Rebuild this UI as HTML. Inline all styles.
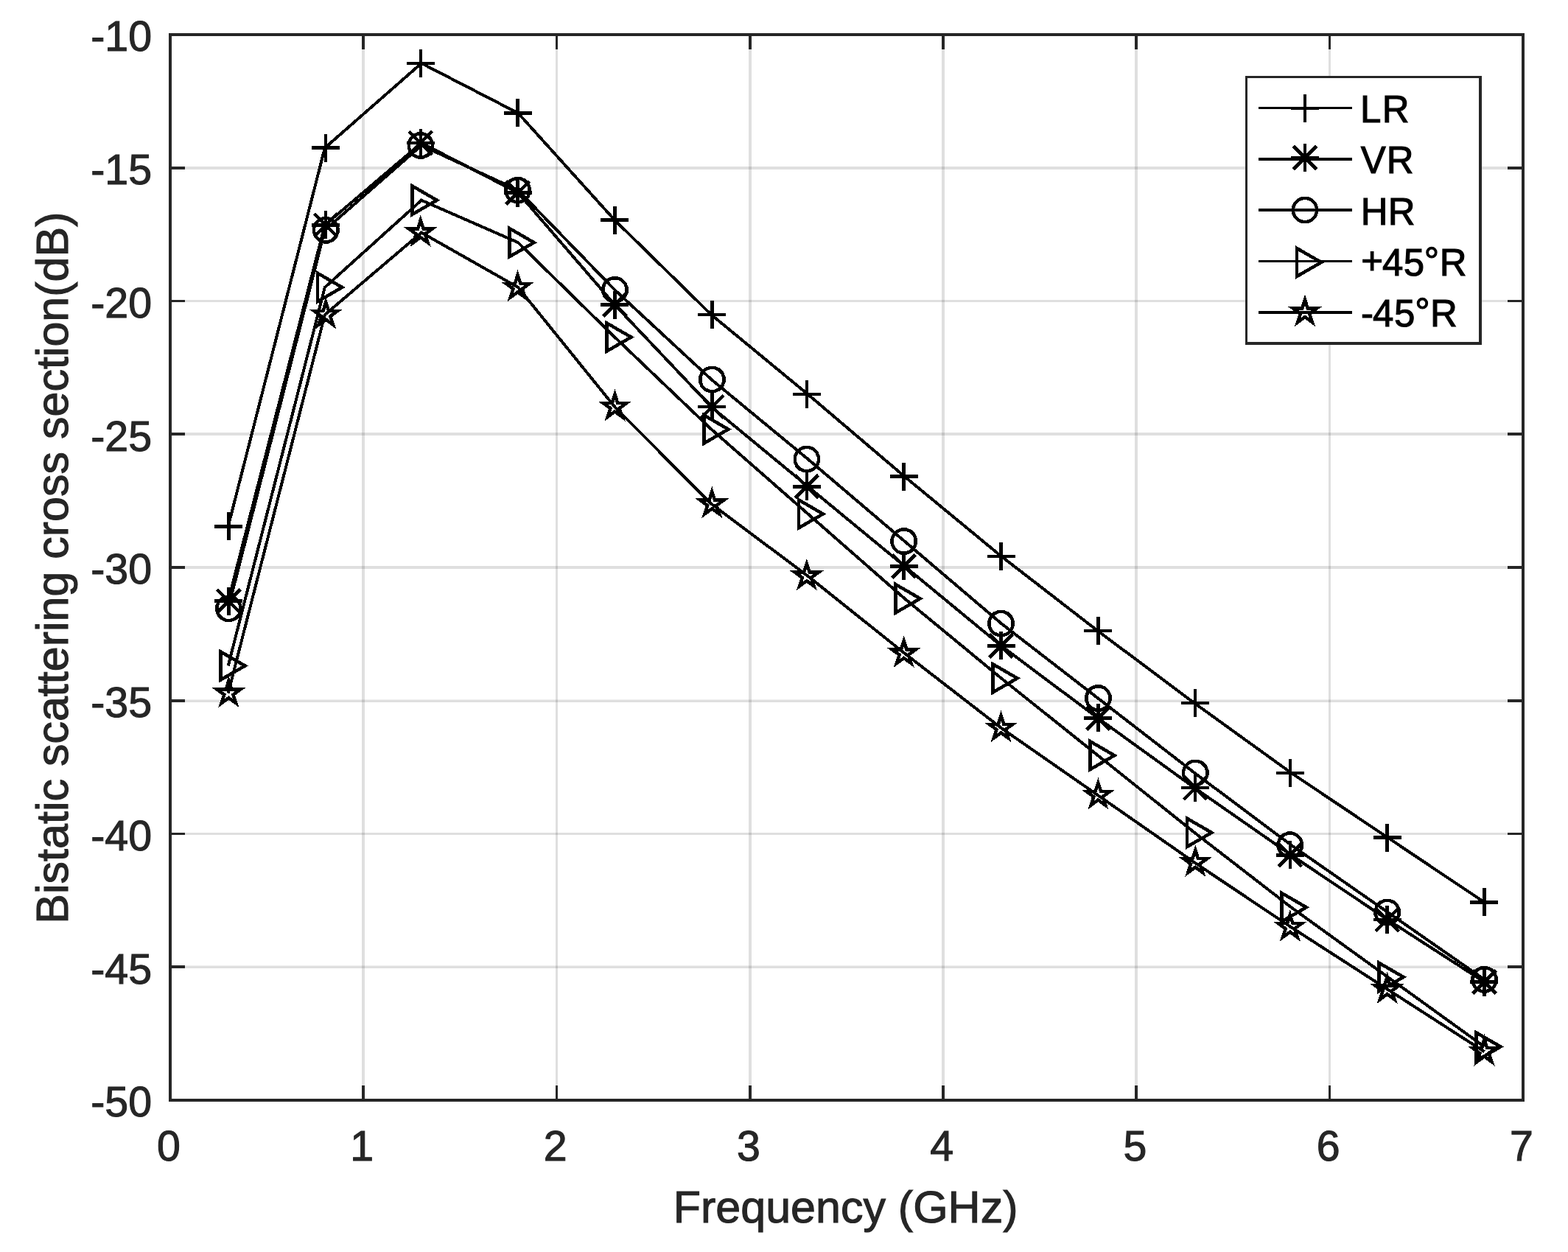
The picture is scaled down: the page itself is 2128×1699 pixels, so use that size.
<!DOCTYPE html>
<html lang="en"><head><meta charset="utf-8"><title>Bistatic scattering cross section vs frequency</title>
<style>
html,body{margin:0;padding:0;background:#fff;}
body{width:2128px;height:1699px;overflow:hidden;}
svg{display:block;}
text{font-family:"Liberation Sans",Arial,Helvetica,sans-serif;}
.tk{font-size:57.3px;fill:#262626;stroke:#262626;stroke-width:1.1;}
.lb{font-size:61.0px;fill:#262626;stroke:#262626;stroke-width:1.1;}
.lg{font-size:51.0px;fill:#000;stroke:#000;stroke-width:1.1;}
</style></head><body>
<svg xmlns="http://www.w3.org/2000/svg" width="2128" height="1699" viewBox="0 0 2128 1699">
<rect width="2128" height="1699" fill="#fff"/>
<g id="grid" fill="#262626" fill-opacity="0.15">
<rect x="491" y="49" width="4" height="1442"/>
<rect x="754" y="49" width="3" height="1442"/>
<rect x="1016" y="49" width="4" height="1442"/>
<rect x="1278" y="49" width="4" height="1442"/>
<rect x="1540" y="49" width="4" height="1442"/>
<rect x="1803" y="49" width="3" height="1442"/>
<rect x="233" y="226" width="1832" height="4"/>
<rect x="233" y="407" width="1832" height="3"/>
<rect x="233" y="587" width="1832" height="4"/>
<rect x="233" y="768" width="1832" height="4"/>
<rect x="233" y="949.5" width="1832" height="3.5"/>
<rect x="233" y="1130" width="1832" height="3"/>
<rect x="233" y="1310.5" width="1832" height="3.5"/>
</g>
<g id="lines" fill="none" stroke="#000" stroke-width="4.0" stroke-linejoin="miter" shape-rendering="crispEdges">
<polyline points="309.69,714.3 440.83,200.74 571.97,85.87 703.11,153.44 834.26,298.73 965.4,427.12 1096.54,535.23 1227.69,646.73 1358.83,754.85 1489.97,856.21 1621.11,954.19 1752.26,1048.79 1883.4,1136.64 2014.54,1224.49"/>
<polyline points="309.69,815.66 440.83,305.48 571.97,193.99 703.11,261.56 834.26,413.6 965.4,552.13 1096.54,660.25 1227.69,768.36 1358.83,876.48 1489.97,974.46 1621.11,1069.07 1752.26,1160.29 1883.4,1248.14 2014.54,1332.6"/>
<polyline points="309.69,825.8 440.83,312.24 571.97,197.37 703.11,258.18 834.26,393.33 965.4,514.96 1096.54,623.08 1227.69,734.58 1358.83,846.07 1489.97,947.43 1621.11,1048.79 1752.26,1146.78 1883.4,1238 2014.54,1329.22"/>
<polyline points="309.69,903.51 440.83,389.95 571.97,271.7 703.11,329.13 834.26,457.52 965.4,582.54 1096.54,697.41 1227.69,812.29 1358.83,920.4 1489.97,1025.14 1621.11,1129.88 1752.26,1231.24 1883.4,1325.85 2014.54,1420.45"/>
<polyline points="309.69,940.68 440.83,427.12 571.97,315.62 703.11,389.95 834.26,552.13 965.4,683.9 1096.54,781.88 1227.69,886.62 1358.83,987.98 1489.97,1079.2 1621.11,1170.43 1752.26,1258.27 1883.4,1342.74 2014.54,1427.21"/>
</g>
<g id="markers" fill="none" stroke="#000" stroke-width="4.5" stroke-linejoin="miter" stroke-miterlimit="10" shape-rendering="crispEdges">
<path d="M291.39 714.3H329.39M310.39 695.3V733.3"/>
<path d="M423.24 200.74H461.24M442.24 181.74V219.74"/>
<path d="M551.78 85.87H589.78M570.78 66.87V104.87"/>
<path d="M683.63 153.44H721.63M702.63 134.44V172.44"/>
<path d="M815.47 298.73H853.47M834.47 279.73V317.73"/>
<path d="M947.31 427.12H985.31M966.31 408.12V446.12"/>
<path d="M1075.86 535.23H1113.86M1094.86 516.23V554.23"/>
<path d="M1207.7 646.73H1245.7M1226.7 627.73V665.73"/>
<path d="M1339.55 754.85H1377.55M1358.55 735.85V773.85"/>
<path d="M1471.39 856.21H1509.39M1490.39 837.21V875.21"/>
<path d="M1603.23 954.19H1641.23M1622.23 935.19V973.19"/>
<path d="M1731.78 1048.79H1769.78M1750.78 1029.79V1067.79"/>
<path d="M1863.62 1136.64H1901.62M1882.62 1117.64V1155.64"/>
<path d="M1995.47 1224.49H2033.47M2014.47 1205.49V1243.49"/>
<path d="M291.39 815.66H329.39M310.39 796.66V834.66M294.69 799.96L326.09 831.36M294.69 831.36L326.09 799.96"/>
<path d="M423.24 305.48H461.24M442.24 286.48V324.48M426.54 289.78L457.94 321.18M426.54 321.18L457.94 289.78"/>
<path d="M551.78 193.99H589.78M570.78 174.99V212.99M555.08 178.29L586.48 209.69M555.08 209.69L586.48 178.29"/>
<path d="M683.63 261.56H721.63M702.63 242.56V280.56M686.93 245.86L718.33 277.26M686.93 277.26L718.33 245.86"/>
<path d="M815.47 413.6H853.47M834.47 394.6V432.6M818.77 397.9L850.17 429.3M818.77 429.3L850.17 397.9"/>
<path d="M947.31 552.13H985.31M966.31 533.13V571.13M950.61 536.43L982.01 567.83M950.61 567.83L982.01 536.43"/>
<path d="M1075.86 660.25H1113.86M1094.86 641.25V679.25M1079.16 644.55L1110.56 675.95M1079.16 675.95L1110.56 644.55"/>
<path d="M1207.7 768.36H1245.7M1226.7 749.36V787.36M1211 752.66L1242.4 784.06M1211 784.06L1242.4 752.66"/>
<path d="M1339.55 876.48H1377.55M1358.55 857.48V895.48M1342.85 860.78L1374.25 892.18M1342.85 892.18L1374.25 860.78"/>
<path d="M1471.39 974.46H1509.39M1490.39 955.46V993.46M1474.69 958.76L1506.09 990.16M1474.69 990.16L1506.09 958.76"/>
<path d="M1603.23 1069.07H1641.23M1622.23 1050.07V1088.07M1606.53 1053.37L1637.93 1084.77M1606.53 1084.77L1637.93 1053.37"/>
<path d="M1731.78 1160.29H1769.78M1750.78 1141.29V1179.29M1735.08 1144.59L1766.48 1175.99M1735.08 1175.99L1766.48 1144.59"/>
<path d="M1863.62 1248.14H1901.62M1882.62 1229.14V1267.14M1866.92 1232.44L1898.32 1263.84M1866.92 1263.84L1898.32 1232.44"/>
<path d="M1995.47 1332.6H2033.47M2014.47 1313.6V1351.6M1998.77 1316.9L2030.17 1348.3M1998.77 1348.3L2030.17 1316.9"/>
<path d="M326.43 828.99L323.99 834.88L319.48 839.4L313.58 841.84L307.2 841.84L301.31 839.4L296.8 834.88L294.36 828.99L294.36 822.61L296.8 816.72L301.31 812.21L307.2 809.77L313.58 809.77L319.48 812.21L323.99 816.72L326.43 822.61Z"/>
<path d="M458.27 315.43L455.83 321.32L451.32 325.84L445.43 328.28L439.05 328.28L433.15 325.84L428.64 321.32L426.2 315.43L426.2 309.05L428.64 303.16L433.15 298.65L439.05 296.21L445.43 296.21L451.32 298.65L455.83 303.16L458.27 309.05Z"/>
<path d="M586.82 200.56L584.38 206.45L579.87 210.96L573.97 213.4L567.59 213.4L561.7 210.96L557.19 206.45L554.75 200.56L554.75 194.18L557.19 188.28L561.7 183.77L567.59 181.33L573.97 181.33L579.87 183.77L584.38 188.28L586.82 194.18Z"/>
<path d="M718.66 261.37L716.22 267.27L711.71 271.78L705.82 274.22L699.44 274.22L693.54 271.78L689.03 267.27L686.59 261.37L686.59 254.99L689.03 249.1L693.54 244.59L699.44 242.15L705.82 242.15L711.71 244.59L716.22 249.1L718.66 254.99Z"/>
<path d="M850.51 396.52L848.06 402.41L843.55 406.92L837.66 409.37L831.28 409.37L825.39 406.92L820.87 402.41L818.43 396.52L818.43 390.14L820.87 384.25L825.39 379.73L831.28 377.29L837.66 377.29L843.55 379.73L848.06 384.25L850.51 390.14Z"/>
<path d="M982.35 518.15L979.91 524.05L975.4 528.56L969.5 531L963.12 531L957.23 528.56L952.72 524.05L950.28 518.15L950.28 511.77L952.72 505.88L957.23 501.37L963.12 498.93L969.5 498.93L975.4 501.37L979.91 505.88L982.35 511.77Z"/>
<path d="M1110.9 626.27L1108.45 632.16L1103.94 636.67L1098.05 639.12L1091.67 639.12L1085.78 636.67L1081.27 632.16L1078.82 626.27L1078.82 619.89L1081.27 614L1085.78 609.49L1091.67 607.04L1098.05 607.04L1103.94 609.49L1108.45 614L1110.9 619.89Z"/>
<path d="M1242.74 737.77L1240.3 743.66L1235.79 748.17L1229.89 750.61L1223.51 750.61L1217.62 748.17L1213.11 743.66L1210.67 737.77L1210.67 731.39L1213.11 725.49L1217.62 720.98L1223.51 718.54L1229.89 718.54L1235.79 720.98L1240.3 725.49L1242.74 731.39Z"/>
<path d="M1374.58 849.26L1372.14 855.16L1367.63 859.67L1361.74 862.11L1355.36 862.11L1349.46 859.67L1344.95 855.16L1342.51 849.26L1342.51 842.88L1344.95 836.99L1349.46 832.48L1355.36 830.04L1361.74 830.04L1367.63 832.48L1372.14 836.99L1374.58 842.88Z"/>
<path d="M1506.43 950.62L1503.98 956.52L1499.47 961.03L1493.58 963.47L1487.2 963.47L1481.31 961.03L1476.8 956.52L1474.35 950.62L1474.35 944.24L1476.8 938.35L1481.31 933.84L1487.2 931.4L1493.58 931.4L1499.47 933.84L1503.98 938.35L1506.43 944.24Z"/>
<path d="M1638.27 1051.98L1635.83 1057.88L1631.32 1062.39L1625.42 1064.83L1619.04 1064.83L1613.15 1062.39L1608.64 1057.88L1606.2 1051.98L1606.2 1045.6L1608.64 1039.71L1613.15 1035.2L1619.04 1032.76L1625.42 1032.76L1631.32 1035.2L1635.83 1039.71L1638.27 1045.6Z"/>
<path d="M1766.82 1149.97L1764.38 1155.86L1759.86 1160.37L1753.97 1162.81L1747.59 1162.81L1741.7 1160.37L1737.19 1155.86L1734.74 1149.97L1734.74 1143.59L1737.19 1137.69L1741.7 1133.18L1747.59 1130.74L1753.97 1130.74L1759.86 1133.18L1764.38 1137.69L1766.82 1143.59Z"/>
<path d="M1898.66 1241.19L1896.22 1247.08L1891.71 1251.59L1885.81 1254.04L1879.43 1254.04L1873.54 1251.59L1869.03 1247.08L1866.59 1241.19L1866.59 1234.81L1869.03 1228.92L1873.54 1224.41L1879.43 1221.96L1885.81 1221.96L1891.71 1224.41L1896.22 1228.92L1898.66 1234.81Z"/>
<path d="M2030.5 1332.41L2028.06 1338.31L2023.55 1342.82L2017.66 1345.26L2011.28 1345.26L2005.38 1342.82L2000.87 1338.31L1998.43 1332.41L1998.43 1326.03L2000.87 1320.14L2005.38 1315.63L2011.28 1313.19L2017.66 1313.19L2023.55 1315.63L2028.06 1320.14L2030.5 1326.03Z"/>
<path d="M332.49 903.51L299.34 922.65L299.34 884.37Z"/>
<path d="M464.34 389.95L431.19 409.09L431.19 370.81Z"/>
<path d="M592.88 271.7L559.73 290.84L559.73 252.56Z"/>
<path d="M724.73 329.13L691.58 348.27L691.58 310Z"/>
<path d="M856.57 457.52L823.42 476.66L823.42 438.39Z"/>
<path d="M988.41 582.54L955.26 601.67L955.26 563.4Z"/>
<path d="M1116.96 697.41L1083.81 716.55L1083.81 678.27Z"/>
<path d="M1248.8 812.29L1215.65 831.43L1215.65 793.15Z"/>
<path d="M1380.65 920.4L1347.5 939.54L1347.5 901.26Z"/>
<path d="M1512.49 1025.14L1479.34 1044.28L1479.34 1006Z"/>
<path d="M1644.33 1129.88L1611.18 1149.02L1611.18 1110.74Z"/>
<path d="M1772.88 1231.24L1739.73 1250.38L1739.73 1212.1Z"/>
<path d="M1904.72 1325.85L1871.57 1344.99L1871.57 1306.71Z"/>
<path d="M2036.57 1420.45L2003.42 1439.59L2003.42 1401.31Z"/>
<path d="M310.39 923.88L314.16 935.48L326.37 935.48L316.5 942.66L320.27 954.27L310.39 947.09L300.52 954.27L304.29 942.66L294.41 935.48L306.62 935.48Z"/>
<path d="M442.24 410.32L446.01 421.92L458.21 421.92L448.34 429.1L452.11 440.71L442.24 433.53L432.36 440.71L436.13 429.1L426.26 421.92L438.46 421.92Z"/>
<path d="M570.78 298.82L574.55 310.43L586.76 310.43L576.89 317.6L580.66 329.21L570.78 322.04L560.91 329.21L564.68 317.6L554.81 310.43L567.01 310.43Z"/>
<path d="M702.63 373.15L706.4 384.76L718.6 384.76L708.73 391.93L712.5 403.54L702.63 396.37L692.75 403.54L696.52 391.93L686.65 384.76L698.85 384.76Z"/>
<path d="M834.47 535.33L838.24 546.94L850.45 546.94L840.57 554.11L844.34 565.72L834.47 558.55L824.59 565.72L828.37 554.11L818.49 546.94L830.7 546.94Z"/>
<path d="M966.31 667.1L970.08 678.7L982.29 678.7L972.42 685.88L976.19 697.49L966.31 690.31L956.44 697.49L960.21 685.88L950.34 678.7L962.54 678.7Z"/>
<path d="M1094.86 765.08L1098.63 776.69L1110.84 776.69L1100.96 783.86L1104.73 795.47L1094.86 788.3L1084.99 795.47L1088.76 783.86L1078.88 776.69L1091.09 776.69Z"/>
<path d="M1226.7 869.82L1230.48 881.43L1242.68 881.43L1232.81 888.6L1236.58 900.21L1226.7 893.03L1216.83 900.21L1220.6 888.6L1210.73 881.43L1222.93 881.43Z"/>
<path d="M1358.55 971.18L1362.32 982.79L1374.52 982.79L1364.65 989.96L1368.42 1001.57L1358.55 994.4L1348.67 1001.57L1352.44 989.96L1342.57 982.79L1354.77 982.79Z"/>
<path d="M1490.39 1062.4L1494.16 1074.01L1506.37 1074.01L1496.49 1081.19L1500.26 1092.79L1490.39 1085.62L1480.52 1092.79L1484.29 1081.19L1474.41 1074.01L1486.62 1074.01Z"/>
<path d="M1622.23 1153.63L1626.01 1165.23L1638.21 1165.24L1628.34 1172.41L1632.11 1184.02L1622.23 1176.84L1612.36 1184.02L1616.13 1172.41L1606.26 1165.24L1618.46 1165.23Z"/>
<path d="M1750.78 1241.47L1754.55 1253.08L1766.76 1253.08L1756.88 1260.26L1760.66 1271.86L1750.78 1264.69L1740.91 1271.86L1744.68 1260.26L1734.8 1253.08L1747.01 1253.08Z"/>
<path d="M1882.62 1325.94L1886.4 1337.55L1898.6 1337.55L1888.73 1344.72L1892.5 1356.33L1882.62 1349.16L1872.75 1356.33L1876.52 1344.72L1866.65 1337.55L1878.85 1337.55Z"/>
<path d="M2014.47 1410.41L2018.24 1422.01L2030.45 1422.02L2020.57 1429.19L2024.34 1440.8L2014.47 1433.62L2004.59 1440.8L2008.36 1429.19L1998.49 1422.02L2010.7 1422.01Z"/>
</g>
<g id="axes" fill="#262626">
<path fill-rule="evenodd" d="M229 45H2069V1495H229ZM233 49V1491H2065V49Z"/>
<rect x="491" y="49" width="4" height="18"/>
<rect x="491" y="1473" width="4" height="18"/>
<rect x="754" y="49" width="3" height="18"/>
<rect x="754" y="1473" width="3" height="18"/>
<rect x="1016" y="49" width="4" height="18"/>
<rect x="1016" y="1473" width="4" height="18"/>
<rect x="1278" y="49" width="4" height="18"/>
<rect x="1278" y="1473" width="4" height="18"/>
<rect x="1540" y="49" width="4" height="18"/>
<rect x="1540" y="1473" width="4" height="18"/>
<rect x="1803" y="49" width="3" height="18"/>
<rect x="1803" y="1473" width="3" height="18"/>
<rect x="233" y="226" width="18" height="4"/>
<rect x="2046" y="226" width="19" height="4"/>
<rect x="233" y="407" width="18" height="3"/>
<rect x="2046" y="407" width="19" height="3"/>
<rect x="233" y="587" width="18" height="4"/>
<rect x="2046" y="587" width="19" height="4"/>
<rect x="233" y="768" width="18" height="4"/>
<rect x="2046" y="768" width="19" height="4"/>
<rect x="233" y="949" width="18" height="4"/>
<rect x="2046" y="949" width="19" height="4"/>
<rect x="233" y="1130" width="18" height="3"/>
<rect x="2046" y="1130" width="19" height="3"/>
<rect x="233" y="1310" width="18" height="4"/>
<rect x="2046" y="1310" width="19" height="4"/>
</g>
<g id="xticks" class="tk" text-anchor="middle">
<text x="229" y="1575">0</text>
<text x="491.29" y="1575">1</text>
<text x="753.57" y="1575">2</text>
<text x="1015.86" y="1575">3</text>
<text x="1278.14" y="1575">4</text>
<text x="1540.43" y="1575">5</text>
<text x="1802.71" y="1575">6</text>
<text x="2065" y="1575">7</text>
</g>
<g id="yticks" class="tk" text-anchor="end">
<text x="206" y="69">-10</text>
<text x="206" y="250">-15</text>
<text x="206" y="431">-20</text>
<text x="206" y="612">-25</text>
<text x="206" y="792">-30</text>
<text x="206" y="973">-35</text>
<text x="206" y="1154">-40</text>
<text x="206" y="1335">-45</text>
<text x="206" y="1515">-50</text>
</g>
<text class="lb" text-anchor="middle" x="1147.6" y="1659">Frequency (GHz)</text>
<text class="lb" text-anchor="middle" transform="translate(92.3 770.6) rotate(-90)">Bistatic scattering cross section(dB)</text>
<g id="legend">
<rect x="1691.5" y="104.5" width="317.5" height="361.5" fill="#fff" stroke="#262626" stroke-width="3.5" shape-rendering="crispEdges"/>
<g fill="none" stroke="#000" stroke-width="3.6" shape-rendering="crispEdges">
<line x1="1708" y1="146.5" x2="1835" y2="146.5"/>
<line x1="1708" y1="216" x2="1835" y2="216"/>
<line x1="1708" y1="285" x2="1835" y2="285"/>
<line x1="1708" y1="354.5" x2="1835" y2="354.5"/>
<line x1="1708" y1="424" x2="1835" y2="424"/>
</g>
<g fill="none" stroke="#000" stroke-width="4.5" stroke-linejoin="miter" stroke-miterlimit="10" shape-rendering="crispEdges">
<path d="M1752 147H1790M1771 128V166"/>
<path d="M1752 214H1790M1771 195V233M1755.3 198.3L1786.7 229.7M1755.3 229.7L1786.7 198.3"/>
<path d="M1787.04 288.19L1784.59 294.08L1780.08 298.59L1774.19 301.04L1767.81 301.04L1761.92 298.59L1757.41 294.08L1754.96 288.19L1754.96 281.81L1757.41 275.92L1761.92 271.41L1767.81 268.96L1774.19 268.96L1780.08 271.41L1784.59 275.92L1787.04 281.81Z"/>
<path d="M1793.1 356L1759.95 375.14L1759.95 336.86Z"/>
<path d="M1771 406.9L1774.77 418.51L1786.98 418.51L1777.1 425.68L1780.87 437.29L1771 430.12L1761.13 437.29L1764.9 425.68L1755.02 418.51L1767.23 418.51Z"/>
</g>
<g class="lg">
<text x="1846.1 1875.8" y="166 166">LR</text>
<text x="1846.7 1881.8" y="235 235">VR</text>
<text x="1846.7 1883.8" y="305 305">HR</text>
<text x="1847.3 1876 1904.7 1932.8 1953.7" y="372 374 374 372 374">+45°R</text>
<text x="1847.1 1863.1 1892.1 1920.2 1940.9" y="443 443 443 441 443">-45°R</text>
</g>
</g>
</svg>
</body></html>
